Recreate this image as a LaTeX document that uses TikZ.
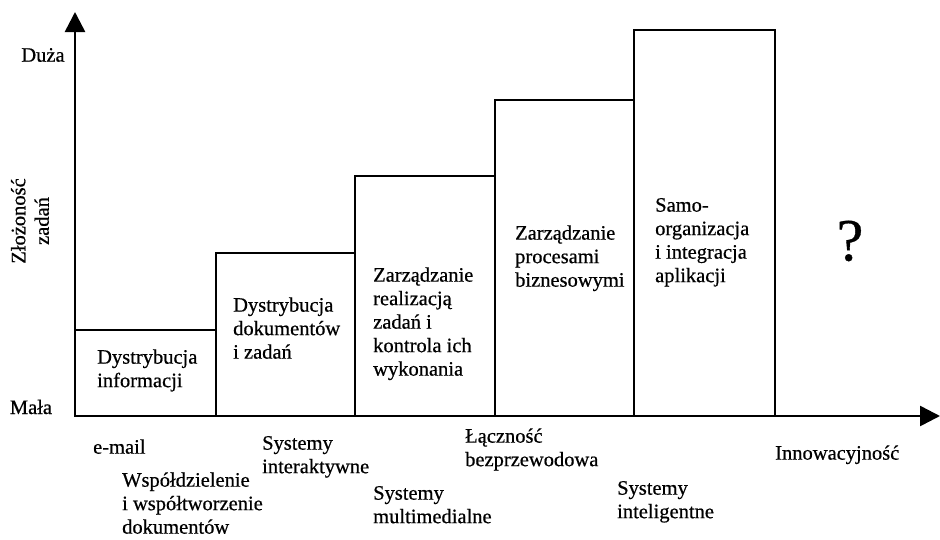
\documentclass[tikz,border=0pt]{standalone}
\usepackage{fontspec}
\setmainfont[FakeBold=0.6]{Liberation Serif}
\usetikzlibrary{arrows.meta}

\newcommand{\etykieta}{\fontsize{20.5}{23.5}\selectfont}

\begin{document}
\begin{tikzpicture}[x=1pt,y=-1pt,
  opis/.style={font=\etykieta, align=left, anchor=north west, inner sep=0pt},
  os/.style={line width=2.6pt, -{Triangle[length=20pt,width=20pt]}},
  slupek/.style={line width=2.2pt}]
\useasboundingbox (0,0) rectangle (940,539);
%
\coordinate (O) at (75,416);
\coordinate (ytip) at (75,12);
\coordinate (xtip) at (940,416);
%
% stopnie: kolejne etapy
\draw[slupek] (75,416) rectangle (216,330);
\draw[slupek] (216,416) rectangle (355,253);
\draw[slupek] (355,416) rectangle (495,176);
\draw[slupek] (495,416) rectangle (634,100);
\draw[slupek] (634,416) rectangle (775,30);
%
% osie
\draw[os] (O) -- (ytip);
\draw[os] (O) -- (xtip);
%
\node[font=\etykieta] (duza) at (43,55) {Duża};
\node[font=\etykieta] (mala) at (31,407) {Mała};
\node[font=\etykieta, align=center, rotate=90] (zlozonosc) at (30,221) {Złożoność\\zadań};
%
% opisy w slupkach
\node[opis] (b1) at (97,347) {\strut Dystrybucja\\informacji};
\node[opis] (b2) at (233,295) {\strut Dystrybucja\\dokumentów\\i zadań};
\node[opis] (b3) at (373,265) {\strut Zarządzanie\\realizacją\\zadań i\\kontrola ich\\wykonania};
\node[opis] (b4) at (515,223) {\strut Zarządzanie\\procesami\\biznesowymi};
\node[opis] (b5) at (655,195) {\strut Samo-\\organizacja\\i integracja\\aplikacji};
\node[font=\fontsize{60}{60}\selectfont] (pytanie) at (850,241) {?};
%
% technologie pod osia
\node[opis] (email) at (93,437) {\strut e-mail};
\node[opis] (wspol) at (122,470) {\strut Współdzielenie\\i współtworzenie\\dokumentów};
\node[opis] (interakt) at (262,433) {\strut Systemy\\interaktywne};
\node[opis] (multimed) at (373,483) {\strut Systemy\\multimedialne};
\node[opis] (lacznosc) at (465,426) {\strut Łączność\\bezprzewodowa};
\node[opis] (intelig) at (617,478) {\strut Systemy\\inteligentne};
\node[opis] (innow) at (775,443) {\strut Innowacyjność};
\end{tikzpicture}
\end{document}
